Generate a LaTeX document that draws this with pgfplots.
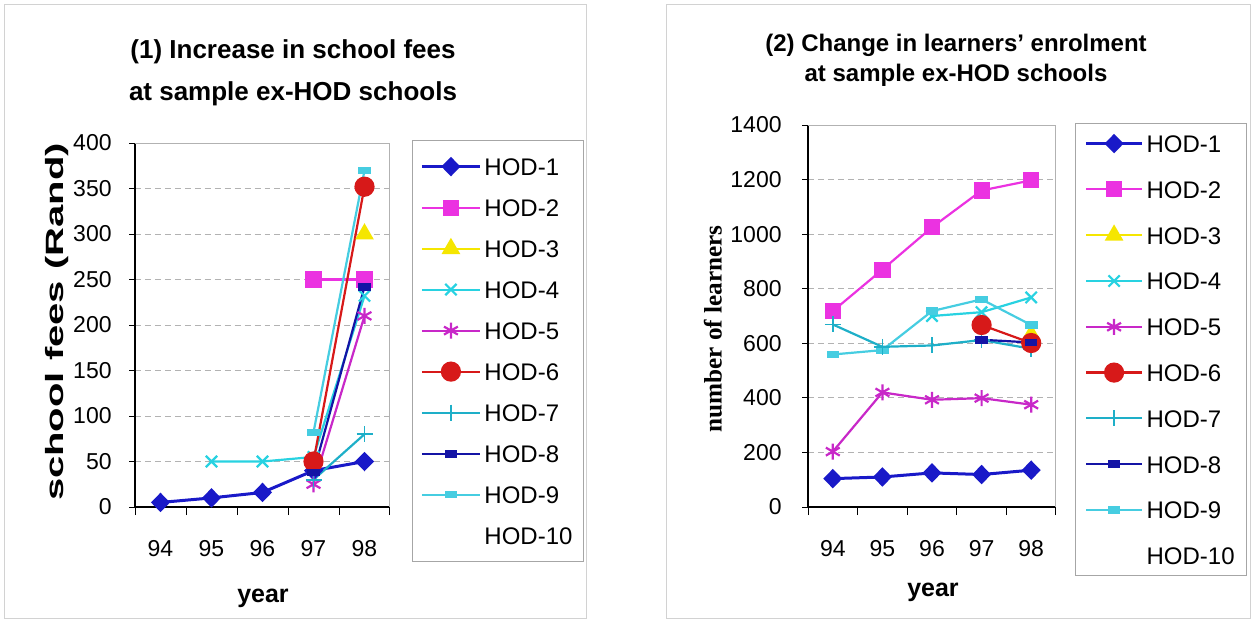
\documentclass[border=0pt]{standalone}
\usepackage{fontspec}
\setmainfont{Liberation Sans}
\newfontfamily\timesfont{Liberation Serif}
\usepackage{pgfplots}
\pgfplotsset{compat=1.18}
\definecolor{hodA}{RGB}{25,25,200}
\definecolor{hodB}{RGB}{235,50,225}
\definecolor{hodC}{RGB}{245,230,0}
\definecolor{hodD}{RGB}{40,210,225}
\definecolor{hodE}{RGB}{200,40,200}
\definecolor{hodF}{RGB}{215,25,25}
\definecolor{hodG}{RGB}{30,175,200}
\definecolor{hodH}{RGB}{20,20,165}
\definecolor{hodI}{RGB}{70,205,225}
\pgfplotsset{
  hodaxis/.style={
    scale only axis, anchor=south west, clip=false,
    xmin=93.5, xmax=98.5,
    xtick={94,95,96,97,98},
    minor xtick={93.5,94.5,95.5,96.5,97.5,98.5},
    every major x tick/.append style={draw=none},
    every minor x tick/.append style={black, line width=0.5bp},
    minor tick length=4bp,
    major tick length=3bp,
    tick align=outside,
    ymajorgrids,
    grid style={gray!60, densely dashed, line width=0.5bp},
    axis x line*=bottom, axis y line*=left,
    axis line style={black, line width=0.8bp, -},
    every tick/.append style={black, line width=0.5bp},
    tick label style={font=\fontsize{11.5bp}{12bp}\selectfont},
    /pgf/number format/assume math mode=true,
    /pgf/number format/1000 sep={},
    xticklabel style={anchor=center, inner sep=0pt},
    yticklabel style={anchor=east, inner sep=0pt},
    legend cell align=left,
    legend image code/.code={\draw[mark repeat=2,mark phase=2] plot coordinates {(0bp,0bp)(14.5bp,0bp)(29bp,0bp)};},
    every axis plot/.append style={line width=1.1bp},
    after end axis/.code={\draw[gray!60, line width=0.5bp] (rel axis cs:0,1) -- (rel axis cs:1,1) -- (rel axis cs:1,0);},
  },
  h1/.style={hodA, line width=1.5bp, mark=diamond*, mark size=3.8bp, mark options={xscale=1.3, fill=hodA}},
  h2/.style={hodB, mark=square*, mark size=3.5bp, mark options={fill=hodB}},
  h3/.style={hodC, mark=triangle*, mark size=4.3bp, mark options={fill=hodC}},
  h4/.style={hodD, mark=x, mark size=4bp},
  h5/.style={hodE, mark=asterisk, mark size=4bp},
  h6/.style={hodF, mark=*, mark size=4.5bp, mark options={fill=hodF}},
  h7/.style={hodG, mark=+, mark size=4bp, mark options={line width=0.8bp}},
  h8/.style={hodH, mark=square*, mark size=1.4bp, mark options={xscale=1.8, fill=hodH}},
  h9/.style={hodI, mark=square*, mark size=1.3bp, mark options={xscale=2, fill=hodI}},
}
\begin{document}
\begin{tikzpicture}
\path[use as bounding box] (0,0) rectangle (626.5bp,-310.5bp);
\draw[gray!35, line width=0.5bp] (2bp,-2bp) rectangle (293bp,-309bp);
\draw[gray!35, line width=0.5bp] (333bp,-2bp) rectangle (625bp,-309bp);

% titles
\node[anchor=base, font=\bfseries\fontsize{13bp}{15bp}\selectfont] at (146.5bp,-29bp) {(1) Increase in school fees};
\node[anchor=base, font=\bfseries\fontsize{13bp}{15bp}\selectfont] at (146.5bp,-50bp) {at sample ex-HOD schools};
\node[anchor=base, font=\bfseries\fontsize{12bp}{14bp}\selectfont] at (478bp,-25.5bp) {(2) Change in learners' enrolment};
\node[anchor=base, font=\bfseries\fontsize{12bp}{14bp}\selectfont] at (478bp,-40.5bp) {at sample ex-HOD schools};

% axis labels
\node[rotate=90, font=\bfseries\fontsize{12.5bp}{15bp}\selectfont] at (28.5bp,-161bp) {\scalebox{1.6}[1]{school fees (Rand)}};
\node[rotate=90, font=\timesfont\bfseries\fontsize{12.6bp}{15bp}\selectfont] at (356.5bp,-164.5bp) {number of learners};
\node[anchor=base, font=\bfseries\fontsize{12.5bp}{15bp}\selectfont] at (131.5bp,-301bp) {year};
\node[anchor=base, font=\bfseries\fontsize{12.5bp}{15bp}\selectfont] at (466.5bp,-298bp) {year};

% left chart
\begin{axis}[hodaxis,
  at={(67.5bp,-253.5bp)}, width=127.5bp, height=182bp,
  ymin=0, ymax=400, ytick={0,50,...,400},
  xticklabel style={yshift=-18bp},
  yticklabel style={xshift=-8.5bp},
  legend style={at={(1.086,1.008)}, anchor=north west, draw=gray!70, line width=0.5bp,
    inner xsep=4bp, inner ysep=7bp, row sep=8.5bp,
    font=\fontsize{12bp}{12bp}\selectfont,
    nodes={inner sep=1.5bp, text height=9bp, text depth=0bp}},
]
\addplot[h1] coordinates {(94,5) (95,10) (96,16) (97,40) (98,50)};
\addlegendentry{HOD-1}
\addplot[h2] coordinates {(97,250) (98,250)};
\addlegendentry{HOD-2}
\addplot[h3] coordinates {(98,300)};
\addlegendentry{HOD-3}
\addplot[h4] coordinates {(95,50) (96,50) (97,55) (98,232)};
\addlegendentry{HOD-4}
\addplot[h5] coordinates {(97,25) (98,210)};
\addlegendentry{HOD-5}
\addplot[h9, forget plot] coordinates {(97,82) (98,370)};
\addplot[h6] coordinates {(97,50) (98,352)};
\addlegendentry{HOD-6}
\addplot[h7] coordinates {(97,30) (98,80)};
\addlegendentry{HOD-7}
\addplot[h8] coordinates {(97,38) (98,242)};
\addlegendentry{HOD-8}
\addlegendimage{h9}
\addlegendentry{HOD-9}
\addlegendimage{empty legend}
\addlegendentry{HOD-10}
\end{axis}

% right chart
\begin{axis}[hodaxis,
  at={(404bp,-253.5bp)}, width=124bp, height=191bp,
  ymin=0, ymax=1400, ytick={0,200,...,1400},
  xticklabel style={yshift=-18bp},
  yticklabel style={xshift=-10bp},
  legend style={at={(1.077,1.005)}, anchor=north west, draw=gray!70, line width=0.5bp,
    inner xsep=4.5bp, inner ysep=4bp, row sep=10.9bp,
    font=\fontsize{12bp}{12bp}\selectfont,
    nodes={inner sep=1.5bp, text height=9bp, text depth=0bp}},
  legend image code/.code={\draw[mark repeat=2,mark phase=2] plot coordinates {(0bp,0bp)(14bp,0bp)(28bp,0bp)};},
]
\addplot[h1] coordinates {(94,104) (95,110) (96,125) (97,119) (98,135)};
\addlegendentry{HOD-1}
\addplot[h2] coordinates {(94,718) (95,870) (96,1025) (97,1160) (98,1197)};
\addlegendentry{HOD-2}
\addplot[h3] coordinates {(98,632)};
\addlegendentry{HOD-3}
\addplot[h4] coordinates {(96,700) (97,714) (98,768)};
\addlegendentry{HOD-4}
\addplot[h5] coordinates {(94,203) (95,420) (96,393) (97,399) (98,375)};
\addlegendentry{HOD-5}
\addplot[h9, forget plot] coordinates {(94,559) (95,575) (96,718) (97,761) (98,667)};
\addplot[h7, forget plot] coordinates {(94,669) (95,587) (96,592) (97,612) (98,580)};
\addplot[h6] coordinates {(97,667) (98,601)};
\addlegendentry{HOD-6}
\addlegendimage{h7}
\addlegendentry{HOD-7}
\addplot[h8] coordinates {(97,613) (98,603)};
\addlegendentry{HOD-8}
\addlegendimage{h9}
\addlegendentry{HOD-9}
\addlegendimage{empty legend}
\addlegendentry{HOD-10}
\end{axis}
\end{tikzpicture}
\end{document}
